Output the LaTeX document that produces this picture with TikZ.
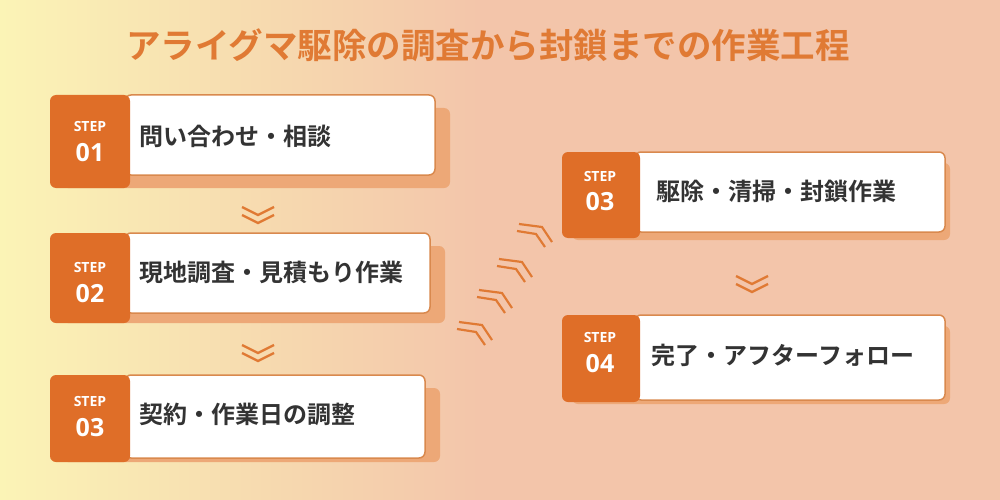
\documentclass[tikz,border=0pt]{standalone}
\usepackage{fontspec}
\newfontfamily\cjk{Noto Sans CJK JP}[BoldFont={Noto Sans CJK JP Bold}]
\setmainfont{Open Sans}
\begin{document}
\begin{tikzpicture}[x=1pt,y=-1pt,
  card/.style={fill=white, draw=boxline, line width=1.5pt, rounded corners=6pt},
  shad/.style={fill=shadowc, rounded corners=6pt},
  tabs/.style={fill=tabc, rounded corners=6pt},
  lbl/.style={font=\cjk\bfseries\fontsize{24}{27}\selectfont, text=txt, anchor=west},
  stp/.style={font=\bfseries\fontsize{14}{14}\selectfont,text=white},
  num/.style={font=\bfseries\fontsize{25}{25}\selectfont,text=white},
  chev/.style={draw=orgc, line width=2.4pt}]
\definecolor{tabc}{HTML}{DF6E28}
\definecolor{orgc}{HTML}{E07A34}
\definecolor{boxline}{HTML}{D9894E}
\definecolor{shadowc}{HTML}{EDA877}
\definecolor{txt}{HTML}{333333}
\definecolor{bgl}{HTML}{FBF4B6}
\definecolor{bgr}{HTML}{F3C5AA}
\useasboundingbox (0,0) rectangle (1000,500);
\fill[left color=bgl,right color=bgr] (0,0) rectangle (480,500);
\fill[bgr] (479,0) rectangle (1000,500);
\node[font=\cjk\bfseries\fontsize{34.5}{38}\selectfont, text=orgc] (title) at (488,45) {アライグマ駆除の調査から封鎖までの作業工程};
% Step 01
\fill[shad] (62,108) rectangle (450,188);
\draw[card] (125,95) rectangle (435,175);
\fill[tabs] (50,95) rectangle (130,188);
\node[stp] at (90,126) {STEP};
\node[num] (s1) at (90,153) {01};
\node[lbl] (l1) at (136,136) {問い合わせ・相談};
% Step 02
\fill[shad] (62,246) rectangle (445,323);
\draw[card] (125,233) rectangle (430,313);
\fill[tabs] (50,233) rectangle (130,323);
\node[stp] at (90,267) {STEP};
\node[num] (s2) at (90,294) {02};
\node[lbl] (l2) at (136,272) {現地調査・見積もり作業};
% Step 03
\fill[shad] (62,388) rectangle (440,462);
\draw[card] (125,375) rectangle (425,458);
\fill[tabs] (50,375) rectangle (130,462);
\node[stp] at (90,401) {STEP};
\node[num] (s3) at (90,428) {03};
\node[lbl] (l3) at (136,414) {契約・作業日の調整};
% Right Step 03
\fill[shad] (572,163) rectangle (950,240);
\draw[card] (635,152) rectangle (945,232);
\fill[tabs] (562,152) rectangle (640,238);
\node[stp] at (600,176) {STEP};
\node[num] (r3) at (600,202) {03};
\node[lbl] (rl3) at (653,191) {駆除・清掃・封鎖作業};
% Right Step 04
\fill[shad] (572,326) rectangle (950,404);
\draw[card] (635,315) rectangle (945,400);
\fill[tabs] (562,315) rectangle (640,402);
\node[stp] at (600,337) {STEP};
\node[num] (r4) at (600,364) {04};
\node[lbl] (rl4) at (648,355) {完了・アフターフォロー};
% down chevrons
\foreach \cx/\cy in {258/207, 258/345, 752/276}{
  \draw[chev] (\cx-16,\cy) -- (\cx,\cy+8) -- (\cx+16,\cy);
  \draw[chev] (\cx-16,\cy+8) -- (\cx,\cy+16) -- (\cx+16,\cy+8);
}
% diagonal chevrons (apex up-right)
\foreach \ax/\ay in {492/340, 512/308, 532/277, 552/242}{
  \draw[chev, line width=2.2pt] (\ax-33,\ay-18) -- (\ax-10,\ay-15) -- (\ax,\ay);
  \draw[chev, line width=2.2pt] (\ax-35,\ay-11) -- (\ax-16,\ay-8) -- (\ax-7,\ay+5);
}
\end{tikzpicture}
\end{document}
